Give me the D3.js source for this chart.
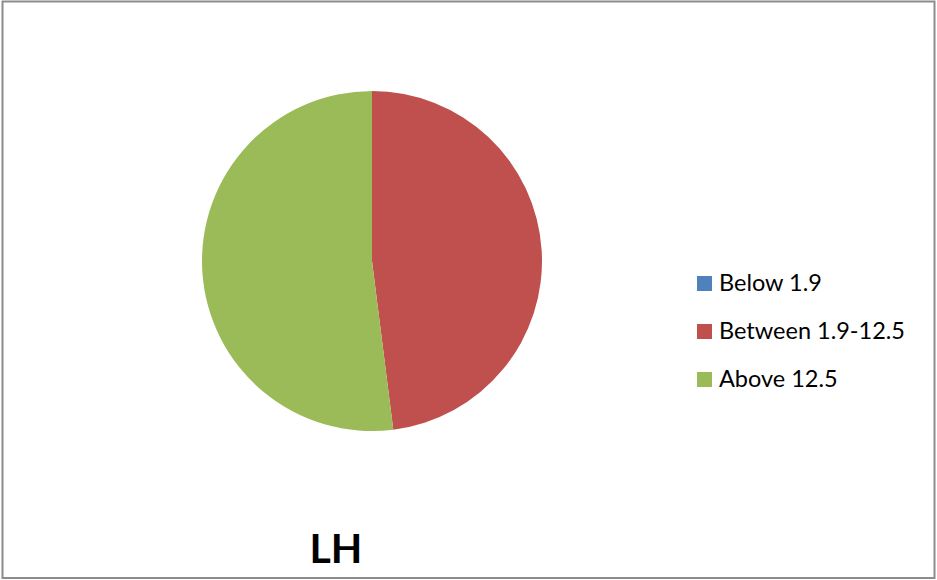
<!DOCTYPE html>
<html><head><meta charset="utf-8">
<script src="https://cdn.jsdelivr.net/npm/d3@7"></script>
<style>html,body{margin:0;padding:0;background:#fff;}svg{display:block;}</style>
</head><body>
<svg id="chart" width="937" height="580"></svg>
<script>
const categories = ["Below 1.9", "Between 1.9-12.5", "Above 12.5"];
const values = [0, 48, 52];
const colors = ["#4F81BD", "#C0504D", "#9BBB59"];
const title = "LH";

const svg = d3.select("#chart");
// chart border
svg.append("rect").attr("x", 2.5).attr("y", 1.5).attr("width", 932).attr("height", 576.5)
  .attr("fill", "#fff").attr("stroke", "#8c8c8c").attr("stroke-width", 2);

const cx = 372, cy = 261, r = 170;
const pie = d3.pie().sort(null).value(d => d)(values);
const arc = d3.arc().innerRadius(0).outerRadius(r);
const color = d3.scaleOrdinal().domain(categories).range(colors);

svg.append("g").attr("transform", `translate(${cx},${cy})`)
  .selectAll("path").data(pie).join("path")
  .attr("d", arc)
  .attr("fill", (d, i) => color(categories[i]));

const y = d3.scalePoint().domain(categories).range([283.5, 379.5]);
const leg = svg.append("g").selectAll("g").data(categories).join("g")
  .attr("transform", d => `translate(697,${y(d)})`);
leg.append("rect").attr("x", 0).attr("y", -7.5).attr("width", 15).attr("height", 15)
  .attr("fill", d => color(d));
leg.append("text").attr("x", 22).attr("y", 7.5)
  .attr("font-family", "Lato, 'Open Sans', sans-serif").attr("font-size", 23.5).attr("fill", "#000")
  .text(d => d);

svg.append("text").attr("x", 336).attr("y", 563).attr("text-anchor", "middle")
  .attr("font-family", "Lato, 'Open Sans', sans-serif").attr("font-weight", "bold")
  .attr("font-size", 41).attr("fill", "#000").text(title);
</script>
</body></html>
